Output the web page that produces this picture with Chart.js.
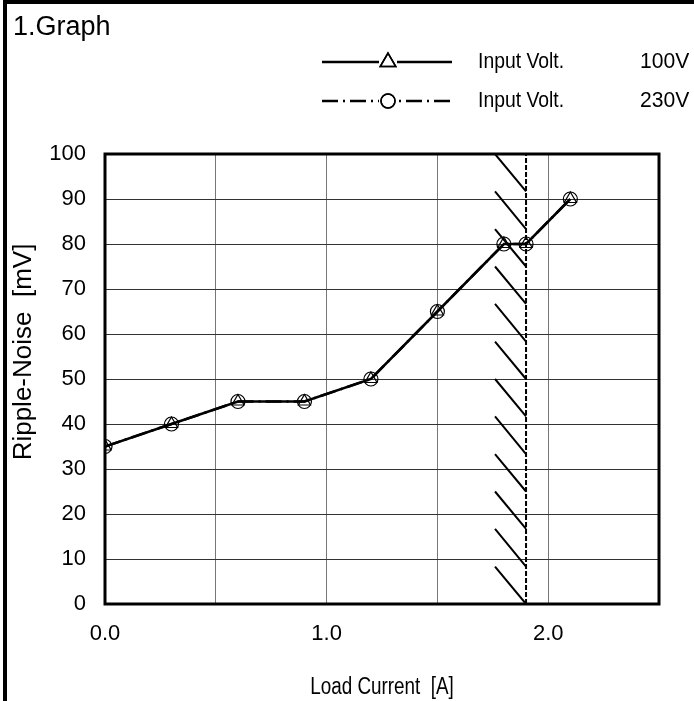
<!DOCTYPE html>
<html>
<head>
<meta charset="utf-8">
<script src="https://cdn.jsdelivr.net/npm/chart.js@4"></script>
<style>
  html, body { margin: 0; padding: 0; background: #fff; }
  #wrap { position: relative; width: 694px; height: 701px; }
</style>
</head>
<body>
<div id="wrap"><canvas id="chart"></canvas></div>
<script>
// data
var loadCurrent = [0.0, 0.3, 0.6, 0.9, 1.2, 1.5, 1.8, 1.9, 2.1];
var ripple100V = [35, 40, 45, 45, 50, 65, 80, 80, 90];
var ripple230V = [35, 40, 45, 45, 50, 65, 80, 80, 90];
var seriesNames = ['Input Volt.', 'Input Volt.'];
var seriesVolts = ['100V', '230V'];

// derating limit and its hatching
var limitCurrent = 1.9;
var hatchStart = 1.76;
var hatchLevels = [100, 91.7, 83.3, 75, 66.7, 58.3, 50, 41.7, 33.3, 25, 16.7, 8.3, 0];

var xTickLabels = ['0.0', '1.0', '2.0'];
var yTickLabels = ['0', '10', '20', '30', '40', '50', '60', '70', '80', '90', '100'];

var chartTitle = '1.Graph';
var xTitle = 'Load Current  [A]';
var yTitle = 'Ripple-Noise  [mV]';

var FONT = '"Liberation Sans", Arial, sans-serif';

function points(xs, ys) {
    return xs.map(function (x, i) { return {x: x, y: ys[i]}; });
}

// text squeezed sideways, the source uses a narrow face
function narrowText(ctx, text, x, y, size, sx, align) {
    ctx.save();
    ctx.font = size + 'px ' + FONT;
    ctx.textBaseline = 'middle';
    ctx.textAlign = align || 'left';
    ctx.translate(x, y);
    ctx.scale(sx, 1);
    ctx.fillText(text, 0, 0);
    ctx.restore();
}

// hatch segments, broken apart with null points
var hatchData = [];
for (var i = 0; i < hatchLevels.length - 1; i++) {
    hatchData.push({x: hatchStart, y: hatchLevels[i]});
    hatchData.push({x: limitCurrent, y: hatchLevels[i + 1]});
    hatchData.push({x: limitCurrent, y: null});
}

// outer frame, plot frame, titles and hand drawn legend
var framePlugin = {
    id: 'frame',
    beforeDraw: function (chart) {
        var ctx = chart.ctx;
        ctx.save();
        ctx.fillStyle = '#fff';
        ctx.fillRect(0, 0, chart.width, chart.height);
        ctx.fillStyle = '#000';
        ctx.fillRect(3, 0, 4, chart.height);
        ctx.fillRect(3, 0, chart.width, 4);
        ctx.font = '27px ' + FONT;
        ctx.textBaseline = 'alphabetic';
        ctx.fillText(chartTitle, 13, 35);
        ctx.restore();
    },
    afterDatasetsDraw: function (chart) {
        var ctx = chart.ctx, a = chart.chartArea;
        ctx.save();
        ctx.strokeStyle = '#000';
        ctx.lineWidth = 3;
        ctx.strokeRect(a.left, a.top, a.right - a.left, a.bottom - a.top);

        // axis titles
        ctx.fillStyle = '#000';
        narrowText(ctx, xTitle, (a.left + a.right) / 2, 688, 23, 0.82, 'center');
        ctx.save();
        ctx.translate(24, 352);
        ctx.rotate(-Math.PI / 2);
        ctx.font = '26px ' + FONT;
        ctx.textAlign = 'center';
        ctx.textBaseline = 'middle';
        ctx.fillText(yTitle, 0, 0);
        ctx.restore();

        // legend
        var rows = [62, 101];
        chart.data.datasets.slice(0, 2).forEach(function (ds, k) {
            var y = rows[k];
            ctx.lineWidth = 2.5;
            ctx.strokeStyle = '#000';
            ctx.setLineDash(ds.borderDash || []);
            ctx.beginPath();
            ctx.moveTo(322, y);
            ctx.lineTo(452, y);
            ctx.stroke();
            ctx.setLineDash([]);
            ctx.fillStyle = '#fff';
            ctx.fillRect(379, y - 8, 18, 16);
            ctx.lineWidth = 1.5;
            Chart.helpers.drawPoint(ctx, {
                pointStyle: ds.pointStyle, radius: ds.pointStyle === 'triangle' ? 9 : 7,
                borderWidth: 1.5, rotation: 0
            }, 388, y);
            ctx.stroke();
            ctx.fillStyle = '#000';
            narrowText(ctx, seriesNames[k], 478, y, 22, 0.88);
            narrowText(ctx, seriesVolts[k], 640, y, 22, 0.96);
        });
        ctx.restore();
    }
};

var ctx = document.getElementById('chart').getContext('2d');
new Chart(ctx, {
    type: 'line',
    data: {
        datasets: [
            {
                label: seriesNames[0] + ' ' + seriesVolts[0],
                data: points(loadCurrent, ripple100V),
                borderColor: '#000',
                borderWidth: 2.5,
                pointStyle: 'triangle',
                pointRadius: 7,
                pointBorderWidth: 1.2,
                pointBorderColor: '#000',
                pointBackgroundColor: 'rgba(0,0,0,0)',
                order: 1
            },
            {
                label: seriesNames[1] + ' ' + seriesVolts[1],
                data: points(loadCurrent, ripple230V),
                borderColor: '#000',
                borderWidth: 2.5,
                borderDash: [16, 5, 2, 5],
                pointStyle: 'circle',
                pointRadius: 7,
                pointBorderWidth: 1.2,
                pointBorderColor: '#000',
                pointBackgroundColor: 'rgba(0,0,0,0)',
                order: 2
            },
            {
                label: 'limit',
                data: [{x: limitCurrent, y: 0}, {x: limitCurrent, y: 100}],
                borderColor: '#000',
                borderWidth: 2,
                borderDash: [5, 2],
                pointRadius: 0,
                order: 3
            },
            {
                label: 'hatch',
                data: hatchData,
                borderColor: '#000',
                borderWidth: 2,
                spanGaps: false,
                pointRadius: 0,
                order: 4
            }
        ]
    },
    options: {
        responsive: true,
        maintainAspectRatio: false,
        animation: false,
        layout: { padding: { top: 154, right: 35, bottom: 0, left: 0 } },
        plugins: {
            legend: { display: false },
            tooltip: { enabled: false }
        },
        elements: { line: { tension: 0 } },
        scales: {
            x: {
                type: 'linear',
                min: 0,
                max: 2.5,
                afterFit: function (s) { s.height = 97; },
                afterBuildTicks: function (s) {
                    s.ticks = [0, 0.5, 1, 1.5, 2, 2.5].map(function (v) { return {value: v}; });
                },
                grid: { color: '#777', lineWidth: 1, drawTicks: false },
                border: { display: false },
                ticks: {
                    padding: 17,
                    color: '#000',
                    font: { family: FONT, size: 22 },
                    maxRotation: 0,
                    callback: function (v) {
                        var t = v.toFixed(1);
                        return xTickLabels.indexOf(t) >= 0 ? t : '';
                    }
                },
                title: { display: false }
            },
            y: {
                min: 0,
                max: 100,
                afterFit: function (s) { s.width = 105; },
                ticks: {
                    stepSize: 5,
                    padding: 19,
                    color: '#000',
                    font: { family: FONT, size: 22 },
                    callback: function (v) {
                        var t = String(v);
                        return yTickLabels.indexOf(t) >= 0 ? t : '';
                    }
                },
                grid: { color: '#333', lineWidth: 1, drawTicks: false },
                border: { display: false },
                title: { display: false }
            }
        }
    },
    plugins: [framePlugin]
});
</script>
</body>
</html>
